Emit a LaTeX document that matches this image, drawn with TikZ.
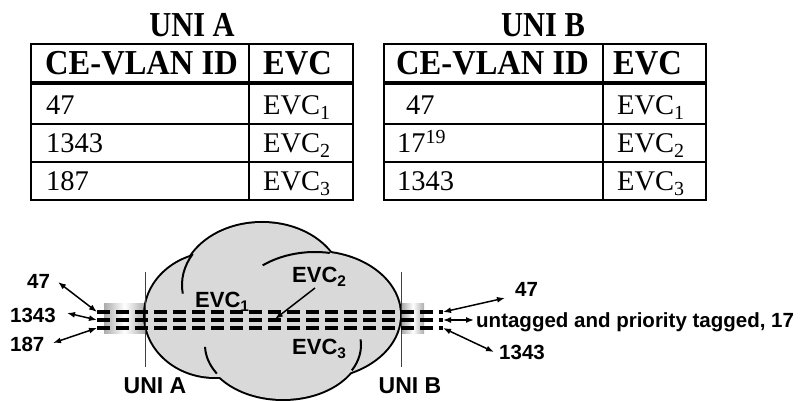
\documentclass[tikz,border=0pt]{standalone}
\usepackage{fontspec}
\setmainfont{Liberation Serif}
\newfontfamily\tnr{Liberation Serif}[FakeStretch=0.87]
\newfontfamily\tnrh{Liberation Serif}[FakeStretch=0.93]
\newfontfamily\arialf{Liberation Sans}
\usetikzlibrary{arrows.meta}
\definecolor{cloudgray}{RGB}{217,217,217}
\begin{document}
\begin{tikzpicture}[x=1pt,y=1pt,
  tblline/.style={line width=2pt},
  hdrline/.style={line width=4.5pt},
  tbltxt/.style={font=\rmfamily\fontsize{28.5}{32}\selectfont, inner sep=0pt, anchor=base west},
  tblhdr/.style={font=\tnrh\fontsize{35}{38}\selectfont\bfseries, inner sep=0pt, anchor=base west},
  tbltitle/.style={font=\tnr\fontsize{35}{38}\selectfont\bfseries, inner sep=0pt, anchor=base},
  lbl/.style={font=\arialf\bfseries\fontsize{20.5}{24}\selectfont, inner sep=0pt, anchor=base west},
  unilbl/.style={font=\arialf\bfseries\fontsize{23}{26}\selectfont, inner sep=0pt, anchor=base},
  evclbl/.style={font=\arialf\bfseries\fontsize{22}{25}\selectfont, inner sep=0pt, anchor=base west},
  dbl/.style={{Latex[length=8pt,width=6pt]}-{Latex[length=8pt,width=6pt]}, line width=1.5pt},
  evcline/.style={line width=4pt, dash pattern=on 13pt off 6pt},
  unibar/.style={line width=0.9pt, black!75},
  tube/.style={left color=gray!65, right color=gray!65, middle color=white},
  outl/.style={line width=4pt},
  inarc/.style={line width=2pt},
  ]
\useasboundingbox (0,0) rectangle (809,401);

% ---------- Table A ----------
\node[tbltitle] (tA) at (192,364) {UNI A};
\draw[tblline] (31,201) rectangle (353,357);
\draw[tblline] (249,201) -- (249,357);
\draw[hdrline] (31,318) -- (353,318);
\draw[tblline] (31,277) -- (353,277);
\draw[tblline] (31,239) -- (353,239);
\node[tblhdr] (hA1) at (45,326) {CE-VLAN ID};
\node[tblhdr] (hA2) at (263,326) {EVC};
\node[tbltxt] (a11) at (46,286) {47};
\node[tbltxt] (a12) at (263,286) {EVC\textsubscript{1}};
\node[tbltxt] (a21) at (46,248) {1343};
\node[tbltxt] (a22) at (263,248) {EVC\textsubscript{2}};
\node[tbltxt] (a31) at (46,210) {187};
\node[tbltxt] (a32) at (263,210) {EVC\textsubscript{3}};

% ---------- Table B ----------
\node[tbltitle] (tB) at (543,364) {UNI B};
\draw[tblline] (384,201) rectangle (706,357);
\draw[tblline] (603,201) -- (603,357);
\draw[hdrline] (384,318) -- (706,318);
\draw[tblline] (384,277) -- (706,277);
\draw[tblline] (384,239) -- (706,239);
\node[tblhdr] (hB1) at (396,326) {CE-VLAN ID};
\node[tblhdr] (hB2) at (613,326) {EVC};
\node[tbltxt] (b11) at (406,286) {47};
\node[tbltxt] (b12) at (617,286) {EVC\textsubscript{1}};
\node[tbltxt] (b21) at (397,248) {17\textsuperscript{19}};
\node[tbltxt] (b22) at (617,248) {EVC\textsubscript{2}};
\node[tbltxt] (b31) at (397,210) {1343};
\node[tbltxt] (b32) at (617,210) {EVC\textsubscript{3}};

% ---------- tubes ----------
\shade[tube] (104,67) rectangle (145,97);
\shade[tube] (402,67) rectangle (424,97);

% ---------- cloud ----------
\draw[outl] (215,86) ellipse [x radius=70, y radius=62];
\draw[outl] (262,116) ellipse [x radius=80, y radius=62];
\draw[outl] (315,86) ellipse [x radius=85, y radius=63];
\draw[outl] (283,56) ellipse [x radius=78, y radius=54];
\fill[cloudgray] (215,86) ellipse [x radius=70, y radius=62];
\fill[cloudgray] (262,116) ellipse [x radius=80, y radius=62];
\fill[cloudgray] (315,86) ellipse [x radius=85, y radius=63];
\fill[cloudgray] (283,56) ellipse [x radius=78, y radius=54];
\draw[inarc] (262,116) ++(150:80 and 62) arc [start angle=150, end angle=188, x radius=80, y radius=62];
\draw[inarc] (315,86) ++(80:85 and 63) arc [start angle=80, end angle=128, x radius=85, y radius=63];
\draw[inarc] (283,56) ++(182:78 and 54) arc [start angle=182, end angle=212, x radius=78, y radius=54];
\draw[inarc] (283,56) ++(6:78 and 54) arc [start angle=6, end angle=-28, x radius=78, y radius=54];

% ---------- UNI boundaries ----------
\draw[unibar] (145,34) -- (145,129);
\draw[unibar] (401,34) -- (401,129);

% ---------- EVC lines ----------
\coordinate (aT) at (97,89);
\coordinate (aM) at (97,81);
\coordinate (aB) at (97,73);
\coordinate (bT) at (443,89);
\coordinate (bM) at (443,81);
\coordinate (bB) at (443,73);
\draw[evcline] (aT) -- (bT);
\draw[evcline] (aM) -- (bM);
\draw[evcline] (aB) -- (bB);

% ---------- EVC labels ----------
\node[evclbl] (e1) at (195,93) {EVC\textsubscript{1}};
\node[evclbl] (e2) at (292,118) {EVC\textsubscript{2}};
\node[evclbl] (e3) at (292,46) {EVC\textsubscript{3}};
\coordinate (e2s) at (315,113);
\coordinate (e2t) at (275,82);
\draw[line width=1.5pt, -{Latex[length=8pt,width=6pt]}] (e2s) -- (e2t);

% ---------- left side ----------
\node[lbl] (l47) at (27,112) {47};
\node[lbl] (l1343) at (10,78) {1343};
\node[lbl] (l187) at (10,49) {187};
\coordinate (l47e) at (58,119);
\coordinate (l1343e) at (67,88);
\coordinate (l187e) at (53,58);
\draw[dbl] (l47e) -- (aT);
\draw[dbl] (l1343e) -- (aM);
\draw[dbl] (l187e) -- (aB);

% ---------- right side ----------
\node[lbl] (r47) at (515,104) {47};
\node[lbl] (runt) at (476,73) {untagged and priority tagged, 17};
\node[lbl] (r1343) at (499,41) {1343};
\coordinate (r47e) at (505,103);
\coordinate (runte) at (474,81);
\coordinate (r1343e) at (494,49);
\draw[dbl] (bT) -- (r47e);
\draw[dbl] (bM) -- (runte);
\draw[dbl] (bB) -- (r1343e);

% ---------- UNI labels ----------
\node[unilbl] (uA) at (155,7) {UNI A};
\node[unilbl] (uB) at (410,7) {UNI B};
\end{tikzpicture}
\end{document}
